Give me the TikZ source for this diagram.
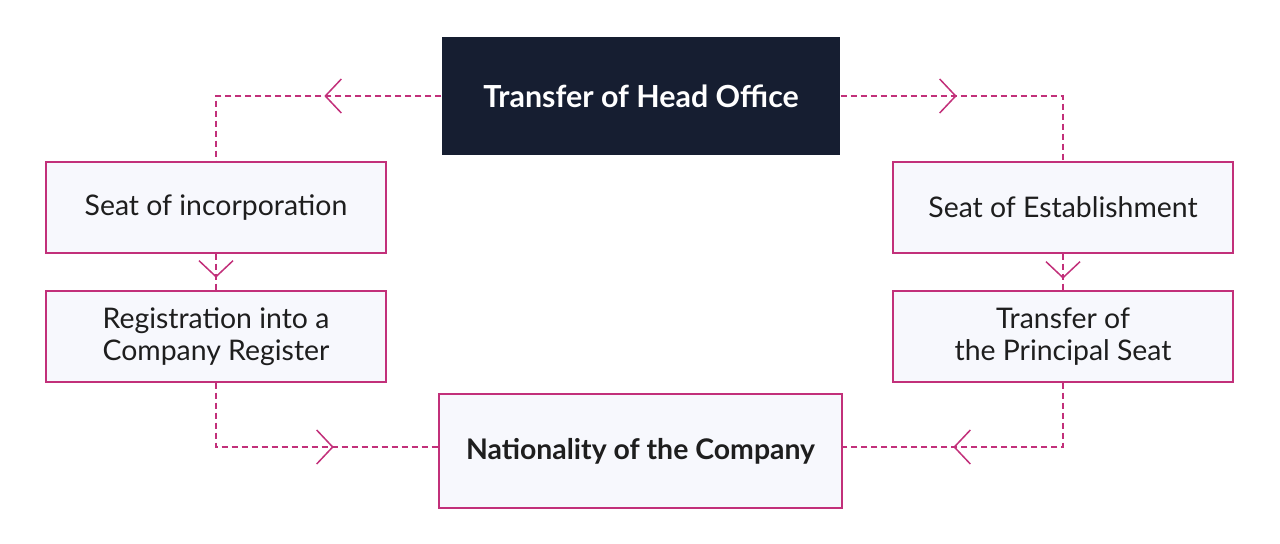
\documentclass[tikz,border=0pt]{standalone}
\usepackage{fontspec}
\setmainfont{Lato}
\usetikzlibrary{arrows.meta,decorations.markings}
\definecolor{linkpink}{HTML}{C2307A}
\definecolor{boxfill}{HTML}{F7F8FD}
\definecolor{headfill}{HTML}{161E31}
\definecolor{textdark}{HTML}{1E1E1E}
\tikzset{
  chev/.tip={Straight Barb[length=8pt,width=17pt,line width=0.75pt]},
  box/.style={draw=linkpink, line width=0.7pt, fill=boxfill, text=textdark,
    minimum width=170pt, minimum height=45.5pt, align=center,
    font=\fontsize{14.2}{16}\selectfont},
  link/.style={draw=linkpink, line width=0.6pt, dash pattern=on 3pt off 2pt},
  chevat/.style={postaction={decorate, decoration={markings,
    mark=at position #1 with {\arrow[linkpink]{chev}}}}}
}

\begin{document}
\begin{tikzpicture}[x=0.5pt, y=-0.5pt]
    \useasboundingbox (0, 0) rectangle (1280, 543);
    \node[box, fill=headfill, draw=none, text=white, minimum width=199pt, minimum height=59pt,
      font=\fontsize{15.2}{16}\selectfont\bfseries] (head) at (641, 96) {Transfer of Head Office};
    \node[box] (incorp) at (216, 207.5) {Seat of incorporation};
    \node[box] (reg) at (216, 336.5) {Registration into a\\Company Register};
    \node[box] (estab) at (1063, 207.5) {Seat of Establishment};
    \node[box] (seat) at (1063, 336.5) {Transfer of\\the Principal Seat};
    \node[box, minimum width=201.5pt, minimum height=57pt,
      font=\fontsize{14.2}{16}\selectfont\bfseries] (nat) at (640.5, 451) {Nationality of the Company};
    \draw[link, chevat=58.5pt] (head.west) -| (incorp.north);
    \draw[link, chevat=58pt] (head.east) -| (estab.north);
    \draw[link, chevat=12pt] (incorp.south) -- (reg.north);
    \draw[link, chevat=12.5pt] (estab.south) -- (seat.north);
    \draw[link, chevat=91pt] (reg.south) |- ([yshift=2pt]nat.west);
    \draw[link, chevat=87pt] (seat.south) |- ([yshift=2pt]nat.east);
  \end{tikzpicture}
\end{document}
